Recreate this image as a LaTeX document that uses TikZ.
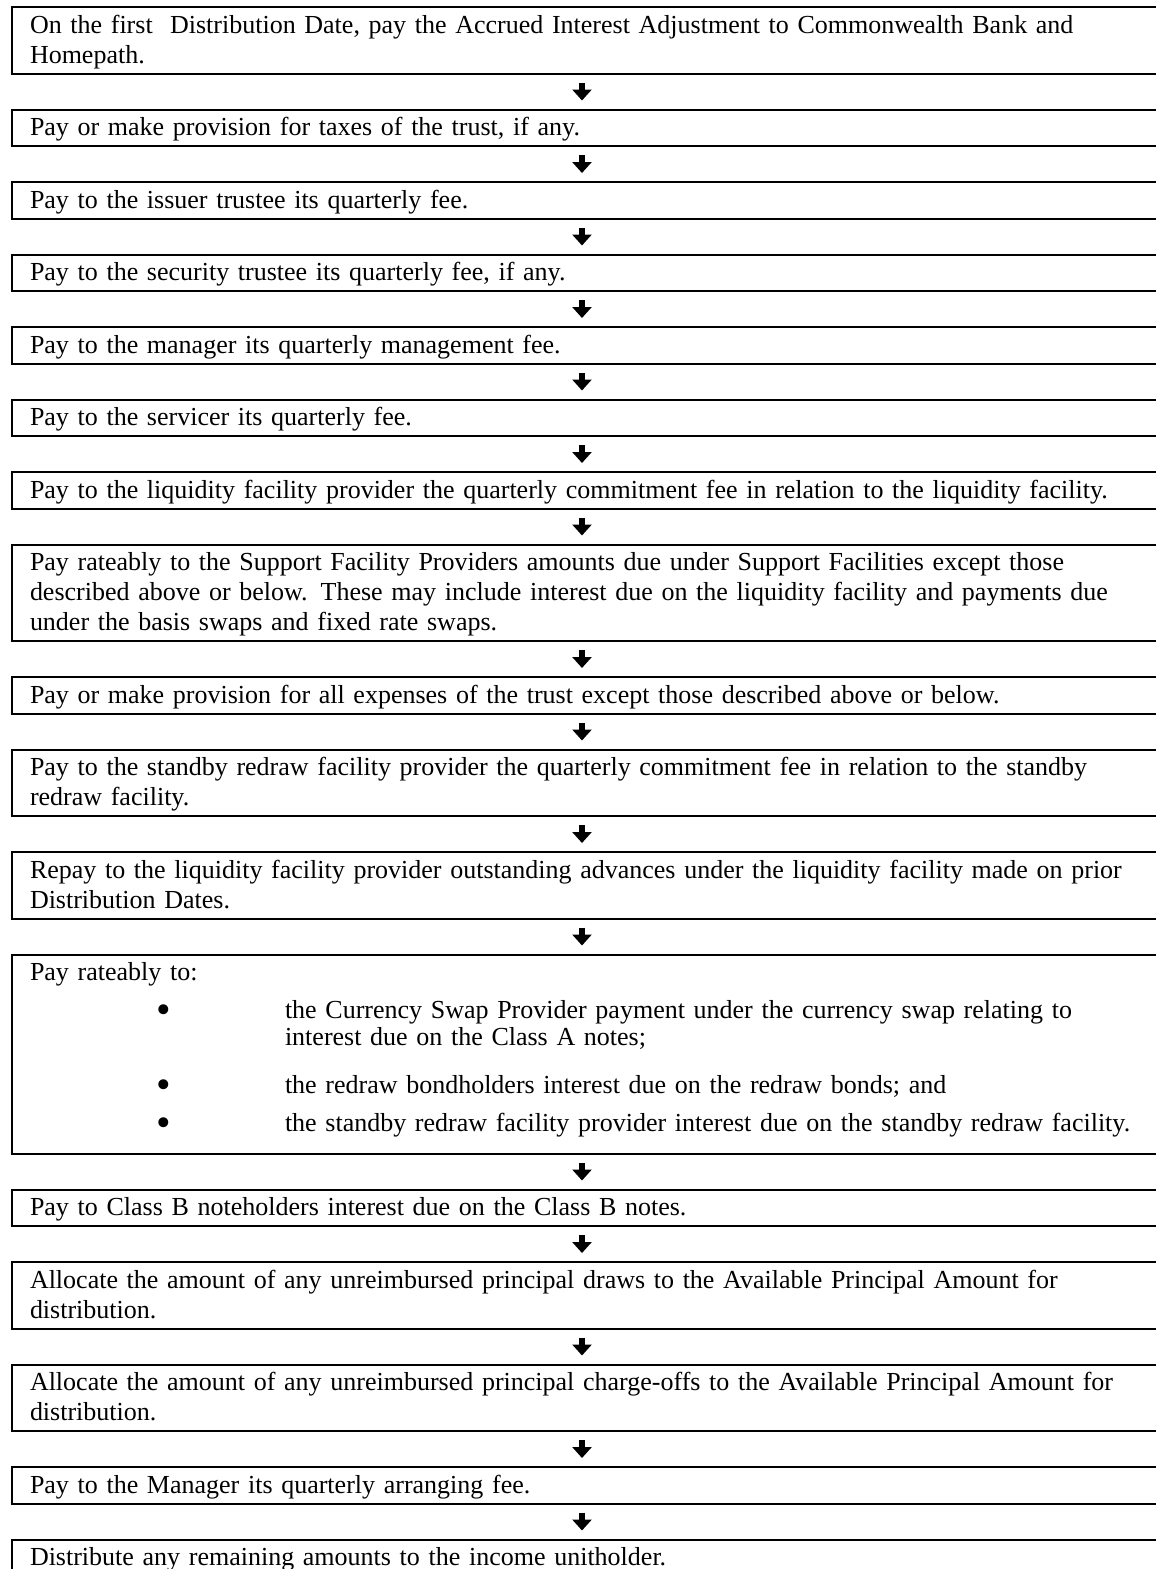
\documentclass[tikz,border=0pt]{standalone}
\usepackage{fontspec}
\setmainfont{Liberation Serif}
\usetikzlibrary{positioning,arrows.meta}

\begin{document}
\begin{tikzpicture}[
                    stepbox/.style={draw, line width=1pt, outer sep=0pt,
                        text width=600pt, align=left, inner xsep=9pt, inner ysep=1.625pt,
                        font=\fontsize{13pt}{15pt}\selectfont,
                        execute at begin node={\rule{0pt}{11.5pt}},
                        execute at end node={\rule[-3.5pt]{0pt}{3.5pt}}},
                    flow/.style={line width=3pt, -{Triangle[width=9.5pt,length=5.5pt]},
                        shorten <=4.5pt, shorten >=4.5pt},
                    node distance=18pt
            ]
                \useasboundingbox (0,0) rectangle (578pt,-784.5pt);
                \coordinate (axis) at (291pt,0);
                \node [stepbox, anchor=north west] (accrued) at (6pt,-3.5pt)
                    {On the first\ \ Distribution Date, pay the Accrued Interest Adjustment to Commonwealth Bank and\\
                     Homepath.};
                \node [stepbox, below=of accrued] (taxes) {Pay or make provision for taxes of the trust, if any.};
                \node [stepbox, below=of taxes] (issuer) {Pay to the issuer trustee its quarterly fee.};
                \node [stepbox, below=of issuer] (security) {Pay to the security trustee its quarterly fee, if any.};
                \node [stepbox, below=of security] (manager) {Pay to the manager its quarterly management fee.};
                \node [stepbox, below=of manager] (servicer) {Pay to the servicer its quarterly fee.};
                \node [stepbox, below=of servicer] (liqfee)
                    {Pay to the liquidity facility provider the quarterly commitment fee in relation to the liquidity facility.};
                \node [stepbox, below=of liqfee] (support)
                    {Pay rateably to the Support Facility Providers amounts due under Support Facilities except those\\
                     described above or below. These may include interest due on the liquidity facility and payments due\\
                     under the basis swaps and fixed rate swaps.};
                \node [stepbox, below=of support] (expenses)
                    {Pay or make provision for all expenses of the trust except those described above or below.};
                \node [stepbox, below=of expenses] (redrawfee)
                    {Pay to the standby redraw facility provider the quarterly commitment fee in relation to the standby\\
                     redraw facility.};
                \node [stepbox, below=of redrawfee] (liqrepay)
                    {Repay to the liquidity facility provider outstanding advances under the liquidity facility made on prior\\
                     Distribution Dates.};
                \node [stepbox, below=of liqrepay] (rateably)
                    {Pay rateably to:\\[4pt]
                     \hspace*{63pt}\makebox[64.5pt][l]{\raisebox{-2.5pt}{\scalebox{1.6}{\textbullet}}}the Currency Swap Provider payment under the currency swap relating to\\[-1.5pt]
                     \hspace*{127.5pt}interest due on the Class A notes;\\[9pt]
                     \hspace*{63pt}\makebox[64.5pt][l]{\raisebox{-2.5pt}{\scalebox{1.6}{\textbullet}}}the redraw bondholders interest due on the redraw bonds; and\\[4pt]
                     \hspace*{63pt}\makebox[64.5pt][l]{\raisebox{-2.5pt}{\scalebox{1.6}{\textbullet}}}the standby redraw facility provider interest due on the standby redraw facility.\rule[-9.25pt]{0pt}{1pt}};
                \node [stepbox, below=of rateably] (classb) {Pay to Class B noteholders interest due on the Class B notes.};
                \node [stepbox, below=of classb] (draws)
                    {Allocate the amount of any unreimbursed principal draws to the Available Principal Amount for\\
                     distribution.};
                \node [stepbox, below=of draws] (chargeoffs)
                    {Allocate the amount of any unreimbursed principal charge-offs to the Available Principal Amount for\\
                     distribution.};
                \node [stepbox, below=of chargeoffs] (arranging) {Pay to the Manager its quarterly arranging fee.};
                \node [stepbox, below=of arranging] (remaining) {Distribute any remaining amounts to the income unitholder.};
                \foreach \a/\b in {accrued/taxes, taxes/issuer, issuer/security, security/manager,
                                   manager/servicer, servicer/liqfee, liqfee/support, support/expenses,
                                   expenses/redrawfee, redrawfee/liqrepay, liqrepay/rateably, rateably/classb,
                                   classb/draws, draws/chargeoffs, chargeoffs/arranging, arranging/remaining}
                    \draw [flow] (\a.south -| axis) -- (\b.north -| axis);
            \end{tikzpicture}
\end{document}
